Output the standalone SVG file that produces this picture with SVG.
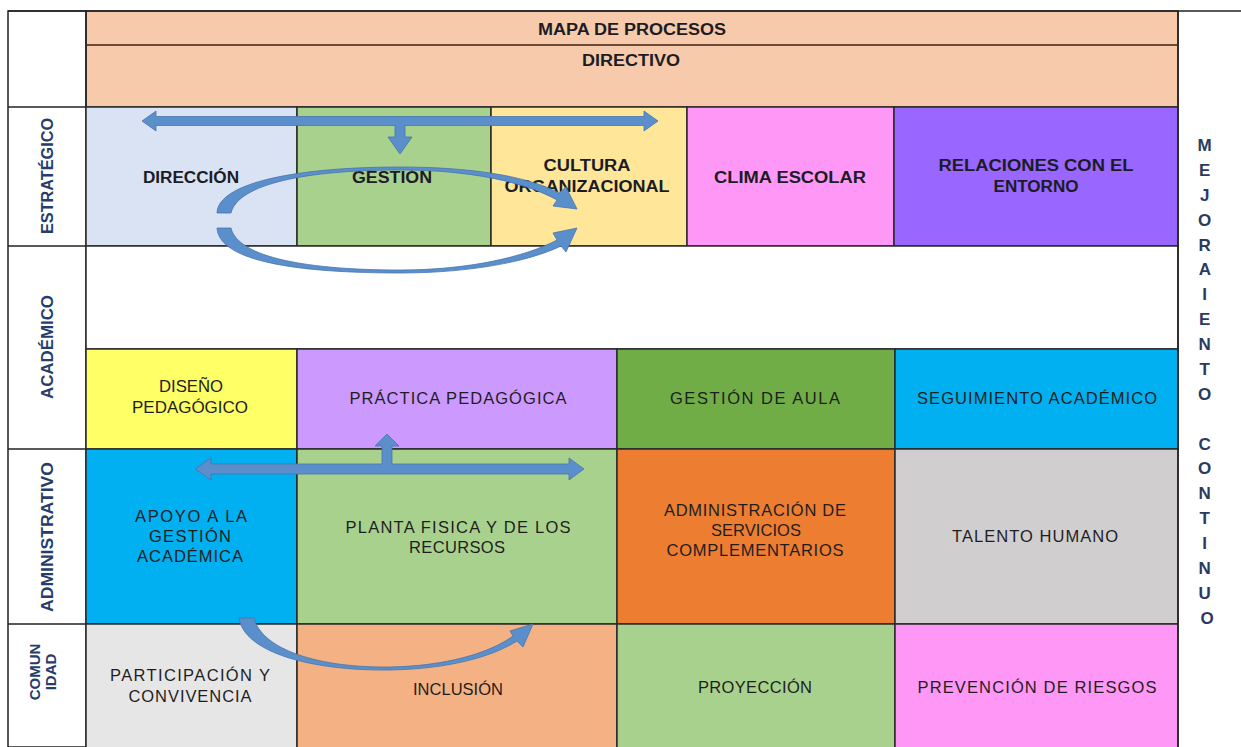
<svg xmlns="http://www.w3.org/2000/svg" width="1241" height="747" viewBox="0 0 1241 747">
  <style>
    .cell{stroke:#2a2a2a;stroke-width:1.5}
    .b{font-family:"Liberation Sans",Arial,sans-serif;font-weight:bold;font-size:16px;fill:#1c1c24;text-anchor:middle}
    .r{font-family:"Liberation Sans",Arial,sans-serif;font-size:16.5px;fill:#1e1e1e;text-anchor:middle}
    .side{font-family:"Liberation Sans",Arial,sans-serif;font-weight:bold;font-size:16px;fill:#263d6b;text-anchor:middle}
    .mc{font-family:"Liberation Sans",Arial,sans-serif;font-weight:bold;font-size:17px;fill:#2c3a60;text-anchor:middle}
    .arw{fill:#5b8fcb;stroke:#4775ad;stroke-width:0.8}
    .frame{fill:none;stroke:#222;stroke-width:1.5}
  </style>
  <rect width="1241" height="747" fill="#ffffff"/>

  <!-- header band -->
  <g id="header">
    <rect x="86" y="11" width="1092" height="96" fill="#f7caac" class="cell"/>
    <line x1="86" y1="45" x2="1178" y2="45" stroke="#6b4a38" stroke-width="2"/>
    <text class="b" x="632" y="35" textLength="188" lengthAdjust="spacingAndGlyphs">MAPA DE PROCESOS</text>
    <text class="b" x="631" y="66" textLength="98" lengthAdjust="spacingAndGlyphs">DIRECTIVO</text>
  </g>

  <!-- row labels -->
  <g id="row-labels">
    <rect x="8" y="11" width="78" height="736" fill="#fff" class="frame"/>
    <line x1="8" y1="107" x2="86" y2="107" class="frame"/>
    <line x1="8" y1="246" x2="86" y2="246" class="frame"/>
    <line x1="8" y1="449" x2="86" y2="449" class="frame"/>
    <line x1="8" y1="624" x2="86" y2="624" class="frame"/>
    <text class="side" transform="translate(53,176) rotate(-90)" textLength="116" lengthAdjust="spacingAndGlyphs">ESTRATÉGICO</text>
    <text class="side" transform="translate(53,347) rotate(-90)" textLength="104" lengthAdjust="spacingAndGlyphs">ACADÉMICO</text>
    <text class="side" transform="translate(53,537) rotate(-90)" textLength="150" lengthAdjust="spacingAndGlyphs">ADMINISTRATIVO</text>
    <text class="side" style="font-size:15px" transform="translate(40,672) rotate(-90)">COMUN</text>
    <text class="side" style="font-size:15px" transform="translate(56,672) rotate(-90)">IDAD</text>
  </g>

  <!-- strategic row -->
  <g id="direccion">
    <rect x="86" y="107" width="211" height="139" fill="#dae3f3" class="cell"/>
    <text class="b" x="191" y="183" textLength="96" lengthAdjust="spacingAndGlyphs">DIRECCIÓN</text>
  </g>
  <g id="gestion">
    <rect x="297" y="107" width="194" height="139" fill="#a9d18e" class="cell"/>
    <text class="b" x="392" y="183" textLength="80" lengthAdjust="spacingAndGlyphs">GESTIÓN</text>
  </g>
  <g id="cultura">
    <rect x="491" y="107" width="196" height="139" fill="#ffe699" class="cell"/>
    <text class="b" x="587" y="171" textLength="87" lengthAdjust="spacingAndGlyphs">CULTURA</text>
    <text class="b" x="587" y="192" textLength="165" lengthAdjust="spacingAndGlyphs">ORGANIZACIONAL</text>
  </g>
  <g id="clima">
    <rect x="687" y="107" width="207" height="139" fill="#ff97f7" class="cell"/>
    <text class="b" x="790" y="183" textLength="152" lengthAdjust="spacingAndGlyphs">CLIMA ESCOLAR</text>
  </g>
  <g id="relaciones">
    <rect x="894" y="107" width="284" height="139" fill="#9966ff" class="cell"/>
    <text class="b" x="1036" y="171" textLength="195" lengthAdjust="spacingAndGlyphs">RELACIONES CON EL</text>
    <text class="b" x="1036" y="192" textLength="85" lengthAdjust="spacingAndGlyphs">ENTORNO</text>
  </g>

  <!-- academic row -->
  <g id="academico-area">
    <rect x="86" y="246" width="1092" height="103" fill="#ffffff" class="cell"/>
  </g>
  <g id="diseno">
    <rect x="86" y="349" width="211" height="100" fill="#ffff66" class="cell"/>
    <text class="r" x="191" y="392" textLength="64" lengthAdjust="spacingAndGlyphs">DISEÑO</text>
    <text class="r" x="190" y="413" textLength="116" lengthAdjust="spacingAndGlyphs">PEDAGÓGICO</text>
  </g>
  <g id="practica">
    <rect x="297" y="349" width="320" height="100" fill="#cc99ff" class="cell"/>
    <text class="r" x="458" y="404" textLength="217" lengthAdjust="spacing">PRÁCTICA PEDAGÓGICA</text>
  </g>
  <g id="gestion-aula">
    <rect x="617" y="349" width="278" height="100" fill="#70ad47" class="cell"/>
    <text class="r" x="755" y="404" textLength="170" lengthAdjust="spacing">GESTIÓN DE AULA</text>
  </g>
  <g id="seguimiento">
    <rect x="895" y="349" width="283" height="100" fill="#00b0f0" class="cell"/>
    <text class="r" x="1037" y="404" textLength="240" lengthAdjust="spacing">SEGUIMIENTO ACADÉMICO</text>
  </g>

  <!-- administrative row -->
  <g id="apoyo">
    <rect x="86" y="449" width="211" height="175" fill="#00b0f0" class="cell"/>
    <text class="r" x="191" y="522" textLength="112" lengthAdjust="spacing">APOYO A LA</text>
    <text class="r" x="190" y="542" textLength="82" lengthAdjust="spacing">GESTIÓN</text>
    <text class="r" x="190" y="562" textLength="106" lengthAdjust="spacing">ACADÉMICA</text>
  </g>
  <g id="planta">
    <rect x="297" y="449" width="320" height="175" fill="#a9d18e" class="cell"/>
    <text class="r" x="458" y="533" textLength="225" lengthAdjust="spacing">PLANTA FISICA Y DE LOS</text>
    <text class="r" x="457" y="553" textLength="96" lengthAdjust="spacing">RECURSOS</text>
  </g>
  <g id="servicios">
    <rect x="617" y="449" width="278" height="175" fill="#ed7d31" class="cell"/>
    <text class="r" x="755" y="516" textLength="182" lengthAdjust="spacing">ADMINISTRACIÓN DE</text>
    <text class="r" x="756" y="536" textLength="90" lengthAdjust="spacing">SERVICIOS</text>
    <text class="r" x="755" y="556" textLength="177" lengthAdjust="spacing">COMPLEMENTARIOS</text>
  </g>
  <g id="talento">
    <rect x="895" y="449" width="283" height="175" fill="#d0cece" class="cell"/>
    <text class="r" x="1035" y="542" textLength="166" lengthAdjust="spacing">TALENTO HUMANO</text>
  </g>

  <!-- community row -->
  <g id="participacion">
    <rect x="86" y="624" width="211" height="130" fill="#e7e6e6" class="cell"/>
    <text class="r" x="190" y="681" textLength="160" lengthAdjust="spacing">PARTICIPACIÓN Y</text>
    <text class="r" x="190" y="702" textLength="123" lengthAdjust="spacing">CONVIVENCIA</text>
  </g>
  <g id="inclusion">
    <rect x="297" y="624" width="320" height="130" fill="#f4b183" class="cell"/>
    <text class="r" x="458" y="695" textLength="90" lengthAdjust="spacing">INCLUSIÓN</text>
  </g>
  <g id="proyeccion">
    <rect x="617" y="624" width="278" height="130" fill="#a9d18e" class="cell"/>
    <text class="r" x="755" y="693" textLength="114" lengthAdjust="spacing">PROYECCIÓN</text>
  </g>
  <g id="prevencion">
    <rect x="895" y="624" width="283" height="130" fill="#ff97f7" class="cell"/>
    <text class="r" x="1037" y="693" textLength="239" lengthAdjust="spacing">PREVENCIÓN DE RIESGOS</text>
  </g>

  <!-- right band -->
  <g id="mejoramiento">
    <line x1="1178" y1="11" x2="1178" y2="747" class="frame"/>
    <line x1="8" y1="11" x2="1241" y2="11" class="frame"/>
    <text class="mc">
      <tspan x="1207" y="151">M</tspan>
      <tspan x="1207" y="176">E</tspan>
      <tspan x="1207" y="201">J</tspan>
      <tspan x="1207" y="226">O</tspan>
      <tspan x="1207" y="251">R</tspan>
      <tspan x="1207" y="275">A</tspan>
      <tspan x="1207" y="300">I</tspan>
      <tspan x="1207" y="325">E</tspan>
      <tspan x="1207" y="350">N</tspan>
      <tspan x="1207" y="375">T</tspan>
      <tspan x="1207" y="400">O</tspan>
      <tspan x="1207" y="450">C</tspan>
      <tspan x="1207" y="474">O</tspan>
      <tspan x="1207" y="499">N</tspan>
      <tspan x="1207" y="524">T</tspan>
      <tspan x="1207" y="549">I</tspan>
      <tspan x="1207" y="574">N</tspan>
      <tspan x="1207" y="599">U</tspan>
      <tspan x="1207" y="624">O</tspan>
    </text>
  </g>

  <!-- connectors -->
  <g id="connectors">
    <path class="arw" d="M142,121 L156,111 L156,116.5 L644,116.5 L644,111 L658,121 L644,131 L644,125.5 L405,125.5 L405,137 L412,137 L400,154 L388,137 L395,137 L395,125.5 L156,125.5 L156,131 Z"/>
    <path class="arw" d="M217,213 C218,182 300,167 400,167 C470,167 528,176 559,193 L566,187 L577,209 L553,206 L557,200 C525,182 470,170 400,170 C306,170 238,184 231,213 Z"/>
    <path class="arw" d="M217,228 C219,262 300,273 400,273 C468,273 528,262 561,246 L566,252 L577,228 L553,233 L557,240 C525,257 468,270 400,270 C310,270 238,258 231,228 Z"/>
    <path class="arw" d="M195,469 L211,458 L211,464 L382,464 L382,446 L375,446 L387,434 L399,446 L392,446 L392,464 L569,464 L569,458 L584,469 L569,480 L569,474 L211,474 L211,480 Z"/>
    <path class="arw" d="M239,618 C244,652 310,671 390,670 C448,669 492,657 517,641 L523,647 L533,624 L510,631 L513,636 C490,653 446,666 390,667 C320,668 262,650 254,618 Z"/>
  </g>
</svg>
